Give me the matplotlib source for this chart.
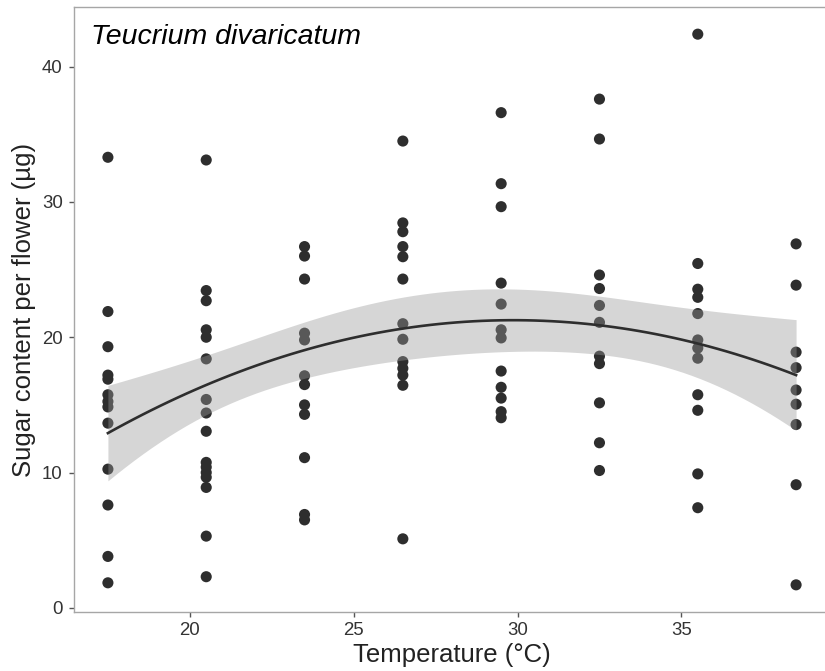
import numpy as np
import matplotlib
matplotlib.use("Agg")
import matplotlib.pyplot as plt

plt.rcParams['font.family'] = ['Liberation Sans', 'DejaVu Sans']

temps = [17.5, 20.5, 23.5, 26.5, 29.5, 32.5, 35.5, 38.5]
sugar_17_5 = [33.3, 21.9, 19.3, 17.2, 16.9, 15.75, 15.25, 14.85, 13.65, 10.25, 7.6, 3.8, 1.85]
sugar_20_5 = [33.1, 23.45, 22.7, 20.55, 20.0, 18.4, 15.4, 14.4, 13.05, 10.75, 10.4, 10.0, 9.65, 8.9, 5.3, 2.3]
sugar_23_5 = [26.7, 26.0, 24.3, 20.3, 19.8, 17.15, 16.5, 15.0, 14.3, 11.1, 6.9, 6.5]
sugar_26_5 = [34.5, 28.45, 27.8, 26.7, 25.95, 24.3, 21.0, 19.85, 18.2, 17.7, 17.2, 16.45, 5.1]
sugar_29_5 = [36.6, 31.35, 29.65, 24.0, 22.45, 20.55, 19.95, 17.5, 16.3, 15.5, 14.5, 14.05]
sugar_32_5 = [37.6, 34.65, 24.6, 23.6, 22.35, 21.1, 18.6, 18.05, 15.15, 12.2, 10.15]
sugar_35_5 = [42.4, 25.45, 23.55, 22.95, 21.75, 19.8, 19.2, 18.45, 15.75, 14.6, 9.9, 7.4]
sugar_38_5 = [26.9, 23.85, 18.9, 17.75, 16.1, 15.05, 13.55, 9.1, 1.7]
groups = [sugar_17_5, sugar_20_5, sugar_23_5, sugar_26_5, sugar_29_5, sugar_32_5, sugar_35_5, sugar_38_5]

x = np.concatenate([[t] * len(g) for t, g in zip(temps, groups)])
y = np.concatenate(groups)

# quadratic lm fit with 95% confidence band
X = np.column_stack([np.ones_like(x), x, x ** 2])
beta, *_ = np.linalg.lstsq(X, y, rcond=None)
resid = y - X @ beta
n, p = X.shape
sigma2 = resid @ resid / (n - p)
cov = sigma2 * np.linalg.inv(X.T @ X)
xg = np.linspace(min(temps), max(temps), 80)
G = np.column_stack([np.ones_like(xg), xg, xg ** 2])
fit = G @ beta
se = np.sqrt(np.einsum('ij,jk,ik->i', G, cov, G))
tcrit = 1.985
lo, hi = fit - tcrit * se, fit + tcrit * se

fig = plt.figure(figsize=(8.25, 6.71), dpi=100)
W, H = 825, 671
left, right, top, bottom = 73.5, 830.5, 6.7, 612.3
ax = fig.add_axes([left / W, 1 - bottom / H, (right - left) / W, (bottom - top) / H])

ax.scatter(x, y, s=64, color='#2e2e2e', edgecolors='none', zorder=2)
ax.fill_between(xg, lo, hi, color='#999999', alpha=0.4, linewidth=0, zorder=3)
ax.plot(xg, fit, color='#2e2e2e', linewidth=1.9, zorder=4)

ax.set_xlim(16.45, 39.55)
ax.set_ylim(-0.33, 44.43)
ax.set_xticks([20, 25, 30, 35])
ax.set_yticks([0, 10, 20, 30, 40])
for s in ax.spines.values():
    s.set_color('#a6a6a6')
    s.set_linewidth(1.0)
ax.tick_params(axis='both', length=3.8, width=1, color='#555555', labelsize=13.4,
               labelcolor='#333333')
ax.tick_params(axis='y', pad=4)
ax.tick_params(axis='x', pad=3)

ax.set_xlabel('Temperature (°C)', fontsize=18.5, color='#222222', labelpad=3)
ax.set_ylabel('Sugar content per flower (µg)', fontsize=18.5, color='#222222', labelpad=4)

ax.text(90.7 / W, 1 - 44.3 / H, 'Teucrium divaricatum', transform=fig.transFigure,
        fontsize=20.5, style='italic', va='baseline', ha='left', color='black')

fig.savefig('out.png', dpi=100)
